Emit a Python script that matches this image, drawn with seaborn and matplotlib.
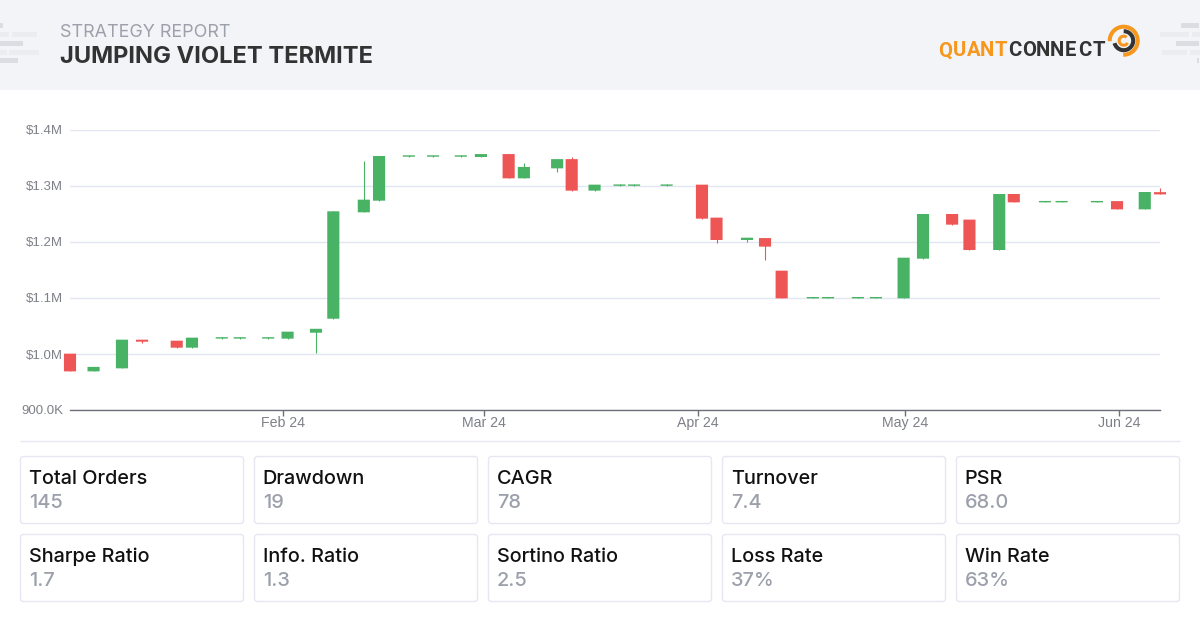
import matplotlib
matplotlib.use("Agg")
import matplotlib.pyplot as plt
from matplotlib.patches import Rectangle, FancyBboxPatch, Arc
import seaborn as sns
import pandas as pd

# ---------- data ----------
day_offsets = [0.2, 3.6, 7.7, 10.6, 15.6, 17.8, 22.1, 24.7, 28.8, 31.6, 35.7, 38.2, 42.6, 44.8,
               49.1, 52.6, 56.6, 59.5, 63.5, 65.7, 70.5, 72.6, 75.9, 79.5, 81.6, 86.3, 91.4, 93.5,
               97.9, 100.5, 102.9, 107.4, 109.6, 113.9, 116.5, 120.5, 123.3, 127.5, 130.0, 134.3,
               136.4, 140.9, 143.3, 148.4, 151.3, 155.3, 157.5]
opens = [1000.6, 969, 974.4, 1025.6, 1023.8, 1011.3, 1027.5, 1027.5, 1027.5, 1027.4, 1038, 1063, 1253, 1273.8,
         1352.3, 1352.3, 1352.3, 1351.8, 1357, 1313.7, 1331.5, 1348, 1291.7, 1300.3, 1300.3, 1300.3, 1302.4, 1243.5,
         1203.6, 1207, 1148.8, 1099.3, 1099.3, 1099.3, 1099.3, 1099.4, 1170.2, 1250, 1240, 1185.7,
         1285.7, 1270.8, 1270.8, 1270.8, 1273, 1258.3, 1289]
closes = [969, 977, 1025.6, 1022, 1011.3, 1029.2, 1030, 1030, 1030, 1039.9, 1045, 1254.8, 1275.6, 1353.6,
          1354.8, 1354.8, 1354.8, 1357, 1313.7, 1334, 1348, 1291.7, 1302.4, 1302.8, 1302.8, 1302.8, 1241.7, 1203.6,
          1207.7, 1191.7, 1099.4, 1101.8, 1101.8, 1101.8, 1101.8, 1172, 1250, 1231, 1185.7, 1285.7,
          1270.8, 1273.3, 1273.3, 1273.3, 1258.3, 1289.3, 1285]
lows = [969, 969, 974.4, 1020, 1011.3, 1011.3, 1027.5, 1027.5, 1027.5, 1027.4, 1002.4, 1063, 1253, 1273.8,
        1352.3, 1352.3, 1352.3, 1351.8, 1313.7, 1313.7, 1325, 1291.7, 1291.7, 1300.3, 1300.3, 1300.3, 1241.7, 1198.8,
        1200.6, 1168.5, 1099.4, 1099.3, 1099.3, 1099.3, 1099.3, 1099.4, 1170.2, 1231, 1185.7, 1185.7,
        1270.8, 1270.8, 1270.8, 1270.8, 1258.3, 1258.3, 1285]
highs = [1000.6, 977, 1025.6, 1025.6, 1023.8, 1029.2, 1030, 1030, 1030, 1039.9, 1045, 1254.8, 1345, 1353.6,
         1354.8, 1354.8, 1354.8, 1357, 1357, 1340.5, 1348, 1352, 1302.4, 1302.8, 1302.8, 1302.8, 1302.4, 1243.5,
         1207.7, 1207, 1148.8, 1101.8, 1101.8, 1101.8, 1101.8, 1172, 1250, 1250, 1240, 1285.7,
         1285.7, 1273.3, 1273.3, 1273.3, 1273, 1289.3, 1296.4]
y_ticks = [900, 1000, 1100, 1200, 1300, 1400]
y_labels = ["900.0K", "$1.0M", "$1.1M", "$1.2M", "$1.3M", "$1.4M"]
month_ticks = ["2024-02-01 00:00", "2024-03-01 00:00", "2024-03-31 20:00", "2024-04-30 18:00", "2024-05-31 15:00"]
month_labels = ["Feb 24", "Mar 24", "Apr 24", "May 24", "Jun 24"]
stat_names = ["Total Orders", "Drawdown", "CAGR", "Turnover", "PSR",
              "Sharpe Ratio", "Info. Ratio", "Sortino Ratio", "Loss Rate", "Win Rate"]
stat_values = ["145", "19", "78", "7.4", "68.0", "1.7", "1.3", "2.5", "37%", "63%"]

GREEN, RED = "#48b365", "#ee5555"
GRID, AXIS, TICKTXT = "#e2e6f0", "#6e7079", "#7d8087"
GREY, DARK, BORDER = "#9ca0ab", "#333333", "#e6e7f2"
ORANGE, HEADER = "#f7971e", "#f3f4f8"
W, H = 1200, 632

sns.set_theme(style="whitegrid", rc={"axes.edgecolor": AXIS, "grid.color": GRID, "grid.linewidth": 1.0})
plt.rcParams["font.family"] = ["Liberation Sans", "DejaVu Sans"]

fig = plt.figure(figsize=(W / 100, H / 100), dpi=100, facecolor="white")

# overlay in pixel coordinates
bg = fig.add_axes([0, 0, 1, 1], zorder=0)
bg.set_xlim(0, W); bg.set_ylim(H, 0); bg.axis("off")
bg.add_patch(Rectangle((0, 0), W, 90, fc=HEADER, ec="none"))

for x, y, w, h, c in [(0, 23, 3, 5, "#dcdde2"), (0, 32, 9, 5, "#ebecf0"), (12, 32, 25, 5, "#ebecf0"),
                      (0, 41, 23, 5, "#dcdde2"), (0, 50, 7, 5, "#ebecf0"), (9, 50, 30, 5, "#ebecf0"),
                      (0, 58, 18, 5, "#dcdde2"),
                      (1181, 23, 18, 5, "#dcdde2"), (1160, 32, 29, 5, "#ebecf0"), (1192, 32, 8, 5, "#ebecf0"),
                      (1176, 41, 23, 5, "#dcdde2"), (1162, 50, 25, 5, "#ebecf0"), (1190, 50, 10, 5, "#ebecf0"),
                      (1197, 58, 2, 5, "#dcdde2")]:
    bg.add_patch(Rectangle((x, y), w, h, fc=c, ec="none"))

bg.text(60, 37, "STRATEGY REPORT", family="Inter", fontsize=12.9, color=GREY, va="baseline")
bg.text(60, 63, "JUMPING VIOLET TERMITE", family="Inter", fontsize=17.07, fontweight="bold", color=DARK, va="baseline")

# logo
for i, ch in enumerate("QUANTCONNECT"):
    bg.text(945.5 + i * 13.9, 56.5, ch, family="Roboto", fontsize=14.6, fontweight="bold",
            color=ORANGE if i < 5 else DARK, ha="center", va="baseline")
cx, cy = 1123.7, 40.7
bg.add_patch(Arc((cx, cy), 28, 28, theta1=178, theta2=92, color=ORANGE, lw=2.9))
bg.add_patch(Arc((cx, cy), 19, 19, theta1=270, theta2=165, color=DARK, lw=2.9))
bg.add_patch(Arc((cx, cy), 9, 9, theta1=30, theta2=310, color=ORANGE, lw=2.2))

# separator and cards
bg.plot([20, 1180], [440.5, 440.5], color=BORDER, lw=1, solid_capstyle="butt")
for i, (name, val) in enumerate(zip(stat_names, stat_values)):
    x = 20.5 + (i % 5) * 234
    y = 456.5 + (i // 5) * 78
    bg.add_patch(FancyBboxPatch((x + 3, y + 3), 217, 61, boxstyle="round,pad=3,rounding_size=3",
                                fc="white", ec=BORDER, lw=1))
    bg.text(x + 8.2, y + 27, name, family="Inter", fontsize=14.3, fontweight="medium", color="#111111", va="baseline")
    bg.text(x + 8.2, y + 51, val, family="Inter", fontsize=14.4, fontweight="medium", color=GREY, va="baseline")

# chart
ax = fig.add_axes([70 / W, 1 - 410 / H, 1090 / W, 280 / H], zorder=2)
ax.patch.set_alpha(0)
df = pd.DataFrame({"date": pd.Timestamp("2024-01-01") + pd.to_timedelta(day_offsets, unit="D"),
                   "open": opens, "close": closes, "low": lows, "high": highs})
df["up"] = df["close"] >= df["open"]
df["color"] = df["up"].map({True: GREEN, False: RED})
df["bottom"] = df[["open", "close"]].min(axis=1)
df["height"] = (df["close"] - df["open"]).abs()

ax.vlines(df["date"], df["low"], df["high"], colors=df["color"], lw=0.8, zorder=3, clip_on=False,
          capstyle="butt")
ax.bar(df["date"], df["height"], bottom=df["bottom"], width=1.75, color=df["color"],
       linewidth=0, zorder=4, clip_on=False, snap=False)

ax.set_xlim(df["date"].iloc[0], df["date"].iloc[-1])
ax.set_ylim(900, 1400)
ax.set_yticks(y_ticks, y_labels)
ax.set_xticks(pd.to_datetime(month_ticks), month_labels)
ax.grid(axis="y", color=GRID, lw=1); ax.grid(axis="x", visible=False)
ax.tick_params(axis="y", length=0, pad=5, labelsize=9.5, labelcolor=TICKTXT)
ax.tick_params(axis="x", bottom=True, length=4, width=1, color=AXIS, pad=0, labelsize=10.2, labelcolor=TICKTXT)
sns.despine(ax=ax, left=True, top=True, right=True)
ax.spines["bottom"].set_color(AXIS); ax.spines["bottom"].set_linewidth(1)

fig.savefig("out.png", dpi=100, facecolor="white")
